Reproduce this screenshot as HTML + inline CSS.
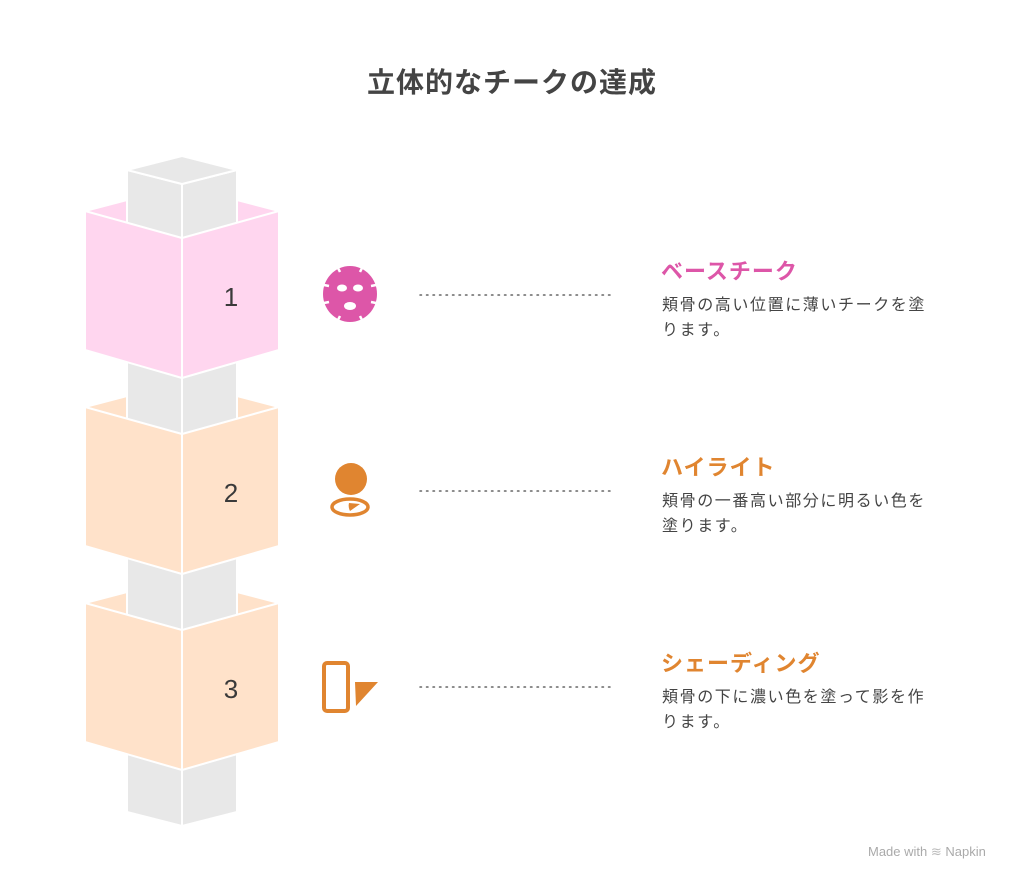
<!DOCTYPE html>
<html><head><meta charset="utf-8"><style>
body{margin:0;width:1024px;height:884px;background:#fff;position:relative;font-family:"Liberation Sans","Noto Sans CJK JP",sans-serif;overflow:hidden}
.t{position:absolute;white-space:nowrap}
.title{left:0;width:1024px;text-align:center;top:61px;font-size:28px;font-weight:bold;color:#444;letter-spacing:1px}
.h{font-size:22px;font-weight:bold;left:661px;letter-spacing:1px}
.b{font-size:16px;color:#444;left:662px;line-height:25px;letter-spacing:1.6px}
</style></head><body>
<svg width="1024" height="884" style="position:absolute;left:0;top:0">
<g stroke="#fff" stroke-width="2" stroke-linejoin="round">
<polygon points="127,170 182,184 182,826 127,812" fill="#e8e8e8"/>
<polygon points="182,184 237,170 237,812 182,826" fill="#e8e8e8"/>
<polygon points="127,170 182,156 237,170 182,184" fill="#e8e8e8"/>
</g>
<g stroke="#fff" stroke-width="2" stroke-linejoin="round">
<polygon points="85,211 127,200 127,224" fill="#ffd6ef"/>
<polygon points="279,211 237,200 237,224" fill="#ffd6ef"/>
<polygon points="85,211 182,238 182,378 85,350" fill="#ffd6ef"/>
<polygon points="182,238 279,211 279,350 182,378" fill="#ffd6ef"/>
</g>
<g stroke="#fff" stroke-width="2" stroke-linejoin="round" transform="translate(0,196)">
<polygon points="85,211 127,200 127,224" fill="#ffe2ca"/>
<polygon points="279,211 237,200 237,224" fill="#ffe2ca"/>
<polygon points="85,211 182,238 182,378 85,350" fill="#ffe2ca"/>
<polygon points="182,238 279,211 279,350 182,378" fill="#ffe2ca"/>
</g>
<g stroke="#fff" stroke-width="2" stroke-linejoin="round" transform="translate(0,392)">
<polygon points="85,211 127,200 127,224" fill="#ffe2ca"/>
<polygon points="279,211 237,200 237,224" fill="#ffe2ca"/>
<polygon points="85,211 182,238 182,378 85,350" fill="#ffe2ca"/>
<polygon points="182,238 279,211 279,350 182,378" fill="#ffe2ca"/>
</g>
<g font-family="Liberation Sans" font-size="26" fill="#3a3a3a" text-anchor="middle">
<text x="231" y="306">1</text><text x="231" y="502">2</text><text x="231" y="698">3</text>
</g>
<g stroke="#666" stroke-width="1.5" stroke-dasharray="1.5 5" stroke-linecap="round">
<line x1="420" y1="295" x2="615" y2="295"/><line x1="420" y1="491" x2="615" y2="491"/><line x1="420" y1="687" x2="615" y2="687"/>
</g>
<g fill="#dd56a8">
<ellipse cx="350" cy="294" rx="27" ry="28"/>
<g stroke="#fff" stroke-width="2.5"><line x1="324" y1="285" x2="329" y2="286"/><line x1="376" y1="285" x2="371" y2="286"/><line x1="324" y1="303" x2="329" y2="302"/><line x1="376" y1="303" x2="371" y2="302"/><line x1="338" y1="268" x2="340" y2="272"/><line x1="362" y1="268" x2="360" y2="272"/><line x1="338" y1="320" x2="340" y2="316"/><line x1="362" y1="320" x2="360" y2="316"/></g>
<ellipse cx="342" cy="288" rx="5" ry="3.5" fill="#fff"/><ellipse cx="358" cy="288" rx="5" ry="3.5" fill="#fff"/><ellipse cx="350" cy="306" rx="6" ry="4" fill="#fff"/>
</g>
<g fill="#e08530">
<circle cx="351" cy="479" r="16"/>
<ellipse cx="350" cy="507" rx="18" ry="8" fill="none" stroke="#e08530" stroke-width="3.5"/>
<path d="M349,503 L360,504 L350,511 Q348,507 349,503 Z"/>
</g>
<g>
<rect x="324" y="663" width="24" height="48" rx="3" fill="none" stroke="#e08530" stroke-width="4"/>
<path d="M355,682 L378,682 L356,706 Z" fill="#e08530"/>
</g>
</svg>
<div class="t title">立体的なチークの達成</div>
<div class="t h" style="top:254px;color:#dd56a8">ベースチーク</div>
<div class="t b" style="top:293px">頬骨の高い位置に薄いチークを塗<br>ります。</div>
<div class="t h" style="top:450px;color:#e08530">ハイライト</div>
<div class="t b" style="top:489px">頬骨の一番高い部分に明るい色を<br>塗ります。</div>
<div class="t h" style="top:646px;color:#e08530">シェーディング</div>
<div class="t b" style="top:685px">頬骨の下に濃い色を塗って影を作<br>ります。</div>
<div class="t" style="left:868px;top:844px;font-size:13px;color:#aaa">Made with <span style="color:#bbb">≋</span> Napkin</div>
</body></html>
